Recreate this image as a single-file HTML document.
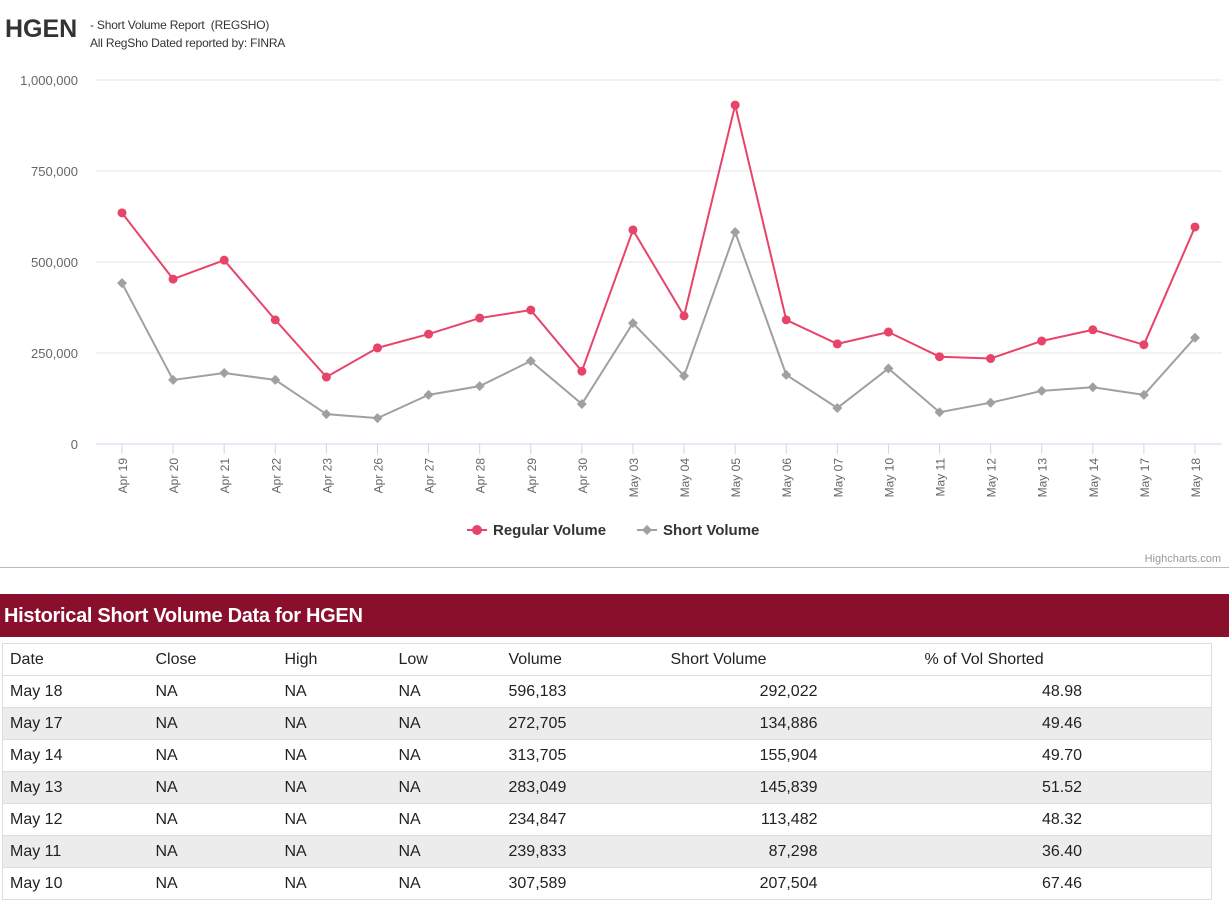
<!DOCTYPE html>
<html><head><meta charset="utf-8"><style>
body{margin:0;width:1229px;height:900px;overflow:hidden;background:#fff;font-family:"Liberation Sans",sans-serif;position:relative}
.abs{position:absolute}
table{border-collapse:collapse;position:absolute;left:2px;top:643px;width:1210px;font-size:16px;color:#222;border:1px solid #ddd;table-layout:fixed}
td{height:31px;padding:0;border-top:1px solid #ddd;white-space:nowrap}
tr.g td{background:#ececec}
.r{text-align:right}
</style></head><body>
<div class="abs" style="left:5px;top:15px;font-size:25px;font-weight:bold;color:#333">HGEN</div>
<div class="abs" style="left:90px;top:16px;font-size:12px;color:#333;line-height:18px;letter-spacing:-0.2px">- Short Volume Report &nbsp;(REGSHO)<br>All RegSho Dated reported by: FINRA</div>
<svg class="abs" style="left:0;top:0" width="1229" height="570" id="chart"></svg>
<div class="abs" style="left:0;top:567px;width:1229px;height:1px;background:#bbb"></div>
<div class="abs" style="left:0;top:594px;width:1229px;height:43px;background:#8a0f2c;color:#fff;font-size:20px;font-weight:bold;line-height:45px;padding-left:4px;box-sizing:border-box;letter-spacing:-0.3px">Historical Short Volume Data for HGEN</div>
<table>
<colgroup><col style="width:153px"><col style="width:129px"><col style="width:114px"><col style="width:110px"><col style="width:162px"><col style="width:254px"><col></colgroup>
<tr><td style="padding-left:7px">Date</td><td>Close</td><td>High</td><td>Low</td><td>Volume</td><td>Short Volume</td><td>% of Vol Shorted</td></tr>
<tbody id="tb"></tbody>
</table>
<script>
const dates=["Apr 19","Apr 20","Apr 21","Apr 22","Apr 23","Apr 26","Apr 27","Apr 28","Apr 29","Apr 30","May 03","May 04","May 05","May 06","May 07","May 10","May 11","May 12","May 13","May 14","May 17","May 18"];
const regular=[635000,453000,505000,341000,184000,264000,302000,346000,368000,200000,588000,352000,931000,341000,275000,307589,239833,234847,283049,313705,272705,596183];
const shortVol=[442000,176000,195000,176000,82000,71000,135000,159000,228000,110000,332000,187000,582000,190000,99000,207504,87298,113482,145839,155904,134886,292022];
const yTicks=[0,250000,500000,750000,1000000];
const NS="http://www.w3.org/2000/svg";
const svg=document.getElementById('chart');
const x0=122,x1=1195,yb=444,yt=80;
const X=i=>x0+i*(x1-x0)/(dates.length-1);
const Y=v=>yb-v/1000000*(yb-yt);
function mk(t,a){const e=document.createElementNS(NS,t);for(const k in a)e.setAttribute(k,a[k]);svg.appendChild(e);return e;}
yTicks.forEach(v=>{
 const l=mk('line',{x1:96,x2:1222,y1:Y(v),y2:Y(v),stroke:v?'#e6e6e6':'#ccd6eb'});
 
 
 const t=mk('text',{x:78,y:Y(v)+5,'text-anchor':'end','font-size':13,fill:'#666','font-family':'Liberation Sans'});
 t.textContent=v.toLocaleString('en-US');
 
 
});
dates.forEach((d,i)=>{
 const tk=mk('line',{x1:X(i),x2:X(i),y1:444,y2:454,stroke:'#ccd6eb'});
 
 
 const t=mk('text',{transform:`translate(${X(i)+5},458) rotate(-90)`,'text-anchor':'end','font-size':12,fill:'#666','font-family':'Liberation Sans'});
 t.textContent=d;
 
 
});
function series(vals,color,name,diamond){
 const p=mk('polyline',{points:vals.map((v,i)=>X(i)+','+Y(v)).join(' '),fill:'none',stroke:color,'stroke-width':2});
 
 
 vals.forEach((v,i)=>{
  let m;
  if(diamond)m=mk('path',{d:`M${X(i)},${Y(v)-5}l5,5l-5,5l-5,-5z`,fill:color});
  else m=mk('circle',{cx:X(i),cy:Y(v),r:4.5,fill:color});
  
  
 });
}
series(shortVol,'#a0a0a0','short-volume',true);
series(regular,'#e8446a','regular-volume',false);
let c=mk('line',{x1:467,x2:487,y1:530,y2:530,stroke:'#e8446a','stroke-width':2});

c=mk('circle',{cx:477,cy:530,r:5,fill:'#e8446a'});

let t=mk('text',{x:493,y:535,'font-size':15,'font-weight':'bold',fill:'#333','font-family':'Liberation Sans'});t.textContent='Regular Volume';

c=mk('line',{x1:637,x2:657,y1:530,y2:530,stroke:'#a0a0a0','stroke-width':2});

c=mk('path',{d:'M647,525l5,5l-5,5l-5,-5z',fill:'#a0a0a0'});

t=mk('text',{x:663,y:535,'font-size':15,'font-weight':'bold',fill:'#333','font-family':'Liberation Sans'});t.textContent='Short Volume';

t=mk('text',{x:1221,y:562,'text-anchor':'end','font-size':11,fill:'#999','font-family':'Liberation Sans'});t.textContent='Highcharts.com';

const rows=[["May 18","596,183","292,022","48.98"],["May 17","272,705","134,886","49.46"],["May 14","313,705","155,904","49.70"],["May 13","283,049","145,839","51.52"],["May 12","234,847","113,482","48.32"],["May 11","239,833","87,298","36.40"],["May 10","307,589","207,504","67.46"]];
const tb=document.getElementById('tb');
rows.forEach((r,i)=>{
 const tr=document.createElement('tr');
 if(i%2)tr.className='g';
 
 
 tr.innerHTML=`<td style="padding-left:7px">${r[0]}</td><td>NA</td><td>NA</td><td>NA</td><td class="r" style="padding-right:106px">${r[1]}</td><td class="r" style="padding-right:107px">${r[2]}</td><td class="r" style="padding-right:129px">${r[3]}</td>`;
 tb.appendChild(tr);
});
</script>
</body></html>
